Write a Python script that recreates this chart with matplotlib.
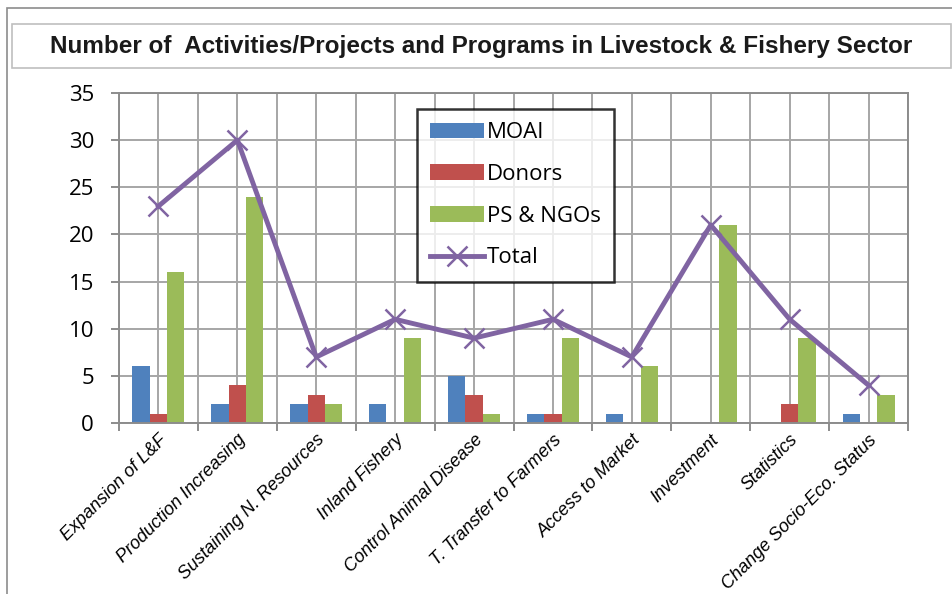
import matplotlib
matplotlib.use("Agg")
import matplotlib.pyplot as plt
import numpy as np
from matplotlib.patches import Rectangle
from matplotlib import font_manager

categories = ["Expansion of L&F", "Production Increasing", "Sustaining N. Resources",
              "Inland Fishery", "Control Animal Disease", "T. Transfer to Farmers",
              "Access to Market", "Investment", "Statistics", "Change Socio-Eco. Status"]
moai = [6, 2, 2, 2, 5, 1, 1, 0, 0, 1]
donors = [1, 4, 3, 0, 3, 1, 0, 0, 2, 0]
ps_ngos = [16, 24, 2, 9, 1, 9, 6, 21, 9, 3]
total = [23, 30, 7, 11, 9, 11, 7, 21, 11, 4]
yticks = [0, 5, 10, 15, 20, 25, 30, 35]
title = "Number of  Activities/Projects and Programs in Livestock & Fishery Sector"

names = {f.name for f in font_manager.fontManager.ttflist}
cat_family = "Liberation Sans Narrow" if "Liberation Sans Narrow" in names else "Liberation Sans"
cat_size = 15 if cat_family == "Liberation Sans Narrow" else 13

W, H = 953, 594
fig = plt.figure(figsize=(W / 100, H / 100), dpi=100)

# outer chart border
fig.patches.append(Rectangle((7 / W, -0.01), 1.0, 1 - 8 / H + 0.01, transform=fig.transFigure,
                             fill=False, edgecolor="#8C8C8C", linewidth=1.2))
# title box
fig.patches.append(Rectangle((12 / W, 1 - 68 / H), (951 - 12) / W, 44 / H, transform=fig.transFigure,
                             fill=False, edgecolor="#BFBFBF", linewidth=1.2))
fig.text(481 / W, 1 - 47 / H, title, ha="center", va="center", fontsize=17.5,
         fontweight="bold", family="Liberation Sans", color="#1a1a1a")

ax = fig.add_axes([119 / W, 1 - 423 / H, (908 - 119) / W, (423 - 93) / H])
x = np.arange(len(categories))
bw = 0.22
grid_c = "#A6A6A6"

# gridlines
for v in np.arange(-0.5, len(categories), 0.5):
    ax.axvline(v, color=grid_c, linewidth=1.4, zorder=0)
for t in yticks:
    ax.axhline(t, color=grid_c, linewidth=1.4, zorder=0)

b1 = ax.bar(x - bw, moai, bw, color="#4F81BD", label="MOAI", zorder=2)
b2 = ax.bar(x, donors, bw, color="#C0504D", label="Donors", zorder=2)
b3 = ax.bar(x + bw, ps_ngos, bw, color="#9BBB59", label="PS & NGOs", zorder=2)
l1, = ax.plot(x, total, color="#8064A2", linewidth=3.5, marker="x", markersize=14,
              markeredgewidth=1.8, label="Total", zorder=3)

ax.set_xlim(-0.5, len(categories) - 0.5)
ax.set_ylim(0, 35)
ax.set_yticks(yticks)
ax.set_yticklabels([str(t) for t in yticks], fontsize=16, family="Open Sans")
ax.set_xticks(np.arange(-0.5, len(categories), 1.0))
ax.set_xticklabels([])
ax.set_xticks(x, minor=True)
ax.set_xticklabels(categories, minor=True, rotation=45, ha="right", rotation_mode="anchor",
                   fontsize=cat_size, style="italic", family=cat_family)
ax.tick_params(axis="x", which="minor", length=0, pad=6)
ax.tick_params(axis="x", which="major", length=6, width=1.4, color="#8C8C8C")
ax.tick_params(axis="y", length=6, width=1.4, color="#8C8C8C", pad=12)
for s in ax.spines.values():
    s.set_color("#8C8C8C")
    s.set_linewidth(1.4)

leg = ax.legend([b1, b2, b3, l1], ["MOAI", "Donors", "PS & NGOs", "Total"],
                loc="upper left", bbox_to_anchor=((417 - 119) / (908 - 119), (423 - 109) / 330),
                prop={"family": "Open Sans", "size": 16}, frameon=True, fancybox=False,
                edgecolor="black", handlelength=2.4, handleheight=0.7, labelspacing=0.93,
                borderpad=0.6, handletextpad=0.15, borderaxespad=0)
leg.get_frame().set_linewidth(1.8)
leg.set_zorder(5)

fig.savefig("out.png", dpi=100)
